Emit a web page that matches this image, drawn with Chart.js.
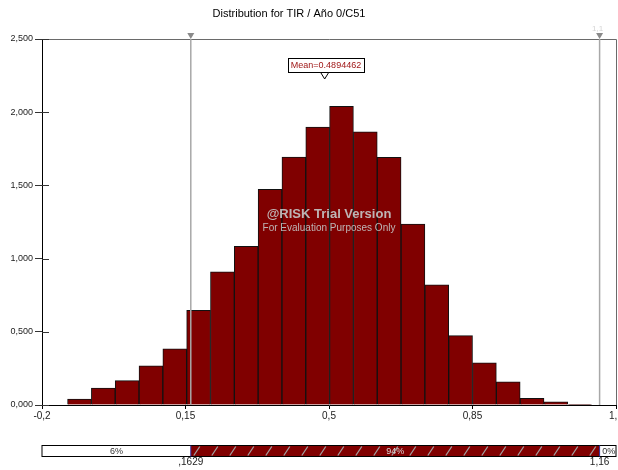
<!DOCTYPE html>
<html>
<head>
<meta charset="utf-8">
<script src="https://cdn.jsdelivr.net/npm/chart.js@4.4.0/dist/chart.umd.min.js"></script>
<style>
  html, body { margin: 0; padding: 0; background: #fff; }
  canvas { display: block; }
</style>
</head>
<body>
<canvas id="histChart" width="618" height="470"></canvas>
<script>
// histogram bins (centres) and density
const binCenters = [-0.1086, -0.0505, 0.0076, 0.0657, 0.1238, 0.1819, 0.2400, 0.2981,
    0.3562, 0.4143, 0.4724, 0.5305, 0.5886, 0.6467, 0.7048, 0.7629,
    0.8210, 0.8791, 0.9372, 0.9953, 1.0534, 1.1115];
const density = [0.040, 0.115, 0.167, 0.267, 0.383, 0.647, 0.909, 1.083,
    1.474, 1.694, 1.898, 2.040, 1.866, 1.692, 1.235, 0.821,
    0.474, 0.288, 0.158, 0.046, 0.022, 0.004];
const xTicks = [-0.2, 0.15, 0.5, 0.85, 1.2];
const yTicks = [0, 0.5, 1, 1.5, 2, 2.5];
const markerValues = [0.1629, 1.16];
const markerLabels = [",1629", "1,16"];
const bandPercents = ["6%", "94%", "0%"];
const meanValue = 0.4894462;
const titleText = "Distribution for TIR / Año 0/C51";

const FONT = "'Liberation Sans', Arial, sans-serif";
const comma = (v) => String(v).replace(".", ",");

const extras = {
    id: "riskExtras",
    afterDatasetsDraw(chart) {
        const { ctx, chartArea: a, scales: { x, y } } = chart;
        ctx.save();

        // title
        ctx.fillStyle = "#000";
        ctx.font = "11px " + FONT;
        ctx.textAlign = "center";
        ctx.textBaseline = "middle";
        ctx.fillText(titleText, 289, 14);

        // top and right border
        ctx.strokeStyle = "#6a6a6a";
        ctx.lineWidth = 1;
        ctx.beginPath();
        ctx.moveTo(a.left, a.top + 0.5);
        ctx.lineTo(a.right + 0.5, a.top + 0.5);
        ctx.lineTo(a.right + 0.5, a.bottom);
        ctx.stroke();

        // inner half of the y ticks
        ctx.strokeStyle = "#333";
        yTicks.forEach((v) => {
            const py = Math.round(y.getPixelForValue(v)) + 0.5;
            ctx.beginPath();
            ctx.moveTo(a.left, py);
            ctx.lineTo(a.left + 7, py);
            ctx.stroke();
        });

        // marker lines with triangles
        markerValues.forEach((v) => {
            const px = x.getPixelForValue(v);
            ctx.strokeStyle = "#a8a8a8";
            ctx.lineWidth = 1.5;
            ctx.beginPath();
            ctx.moveTo(px, a.top);
            ctx.lineTo(px, a.bottom);
            ctx.stroke();
            ctx.fillStyle = "#8a8a8a";
            ctx.beginPath();
            ctx.moveTo(px - 3.5, a.top - 6);
            ctx.lineTo(px + 3.5, a.top - 6);
            ctx.lineTo(px, a.top);
            ctx.closePath();
            ctx.fill();
        });
        ctx.fillStyle = "#d4d4d4";
        ctx.font = "8px " + FONT;
        ctx.fillText("1,1", x.getPixelForValue(markerValues[1]) - 2, a.top - 10);

        // watermark
        const cx = 329;
        ctx.fillStyle = "rgba(195,195,195,0.92)";
        ctx.font = "bold 13px " + FONT;
        ctx.fillText("@RISK Trial Version", cx, 214);
        ctx.font = "10px " + FONT;
        ctx.fillText("For Evaluation Purposes Only", cx, 228);

        // mean label
        const mx = x.getPixelForValue(meanValue);
        ctx.fillStyle = "#fff";
        ctx.fillRect(288, 58.5, 76, 14);
        ctx.strokeStyle = "#000";
        ctx.lineWidth = 1;
        ctx.strokeRect(288.5, 58.5, 76, 14);
        ctx.fillStyle = "#a01818";
        ctx.font = "9px " + FONT;
        ctx.fillText("Mean=" + meanValue, 326, 66);
        ctx.fillStyle = "#fff";
        ctx.beginPath();
        ctx.moveTo(mx - 4, 72.5);
        ctx.lineTo(mx + 4, 72.5);
        ctx.lineTo(mx, 79);
        ctx.closePath();
        ctx.fill();
        ctx.stroke();

        // probability band under the chart
        const bTop = 445.5, bH = 11;
        const p0 = a.left, p1 = x.getPixelForValue(markerValues[0]),
              p2 = x.getPixelForValue(markerValues[1]), p3 = a.right;
        ctx.fillStyle = "#800000";
        ctx.fillRect(p1, bTop, p2 - p1, bH);
        ctx.save();
        ctx.beginPath();
        ctx.rect(p1, bTop, p2 - p1, bH);
        ctx.clip();
        ctx.strokeStyle = "#a0a0a0";
        ctx.lineWidth = 1.3;
        for (let sx = p1 + 3; sx < p2; sx += 18) {
            ctx.beginPath();
            ctx.moveTo(sx, bTop + bH - 1);
            ctx.lineTo(sx + 6, bTop + 1);
            ctx.stroke();
        }
        ctx.restore();
        ctx.strokeStyle = "#000";
        ctx.lineWidth = 1;
        ctx.strokeRect(p0, bTop, p3 - p0, bH);
        ctx.strokeStyle = "#3030a0";
        [p1, p2].forEach((px) => {
            ctx.beginPath();
            ctx.moveTo(px, bTop);
            ctx.lineTo(px, bTop + bH);
            ctx.stroke();
        });
        ctx.font = "9px " + FONT;
        ctx.fillStyle = "#333";
        ctx.fillText(bandPercents[0], (p0 + p1) / 2, bTop + bH / 2 + 0.5);
        ctx.fillStyle = "#d8d8d8";
        ctx.fillText(bandPercents[1], (p1 + p2) / 2, bTop + bH / 2 + 0.5);
        ctx.fillStyle = "#333";
        ctx.fillText(bandPercents[2], (p2 + p3) / 2 + 1, bTop + bH / 2 + 0.5);
        ctx.fillStyle = "#222";
        ctx.font = "10px " + FONT;
        ctx.fillText(markerLabels[0], p1, 462);
        ctx.fillText(markerLabels[1], p2, 462);

        ctx.restore();
    }
};

new Chart(document.getElementById("histChart"), {
    type: "bar",
    data: {
        datasets: [{
            data: binCenters.map((c, i) => ({ x: c, y: density[i] })),
            backgroundColor: "#800000",
            borderColor: "#111",
            borderWidth: 1,
            barPercentage: 1,
            categoryPercentage: 1,
        }],
    },
    options: {
        responsive: false,
        animation: false,
        layout: { padding: { top: 39, right: 2, left: 0, bottom: 0 } },
        plugins: { legend: { display: false }, tooltip: { enabled: false }, title: { display: false } },
        scales: {
            x: {
                type: "linear",
                offset: false,
                min: -0.2,
                max: 1.2,
                afterBuildTicks: (s) => { s.ticks = xTicks.map((v) => ({ value: v })); },
                afterFit: (s) => { s.height = 65; s.paddingLeft = 0; s.paddingRight = 0; },
                border: { color: "#000", width: 1 },
                grid: { drawOnChartArea: false, offset: false, tickLength: 4, color: "#000" },
                ticks: {
                    autoSkip: false,
                    maxRotation: 0,
                    padding: 1,
                    color: "#222",
                    font: { family: FONT, size: 10 },
                    callback: (v) => comma(v),
                },
            },
            y: {
                min: 0,
                max: 2.5,
                afterBuildTicks: (s) => { s.ticks = yTicks.map((v) => ({ value: v })); },
                afterFit: (s) => { s.width = 42; s.paddingTop = 0; s.paddingBottom = 0; },
                border: { color: "#000", width: 1 },
                grid: { drawOnChartArea: false, tickLength: 7, color: "#333" },
                ticks: {
                    padding: 2,
                    color: "#222",
                    font: { family: FONT, size: 9 },
                    callback: (v) => v.toFixed(3).replace(".", ","),
                },
            },
        },
    },
    plugins: [extras],
});
</script>
</body>
</html>
